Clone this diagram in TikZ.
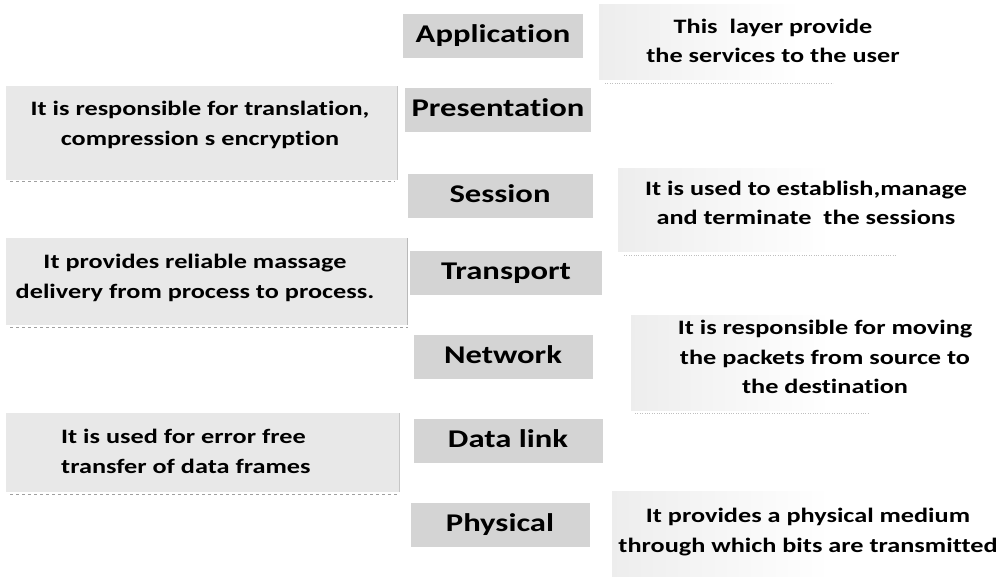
\documentclass[tikz,border=0pt]{standalone}
\usepackage{fontspec}
\setmainfont{Carlito}[FakeStretch=1.28, Ligatures=NoCommon]

\begin{document}
\begin{tikzpicture}[x=1pt,y=-1pt,
  every node/.style={inner sep=0pt},
  layer/.style={fill=gray!34, minimum height=44pt, text height=17pt, text depth=5pt,
    font=\bfseries\fontsize{25.5}{30}\selectfont},
  desc/.style={align=center, font=\bfseries\fontsize{20.5}{30}\selectfont},
  note/.style={align=center, font=\bfseries\fontsize{20.5}{29.5}\selectfont}]
\useasboundingbox (0,0) rectangle (1001,579);
%
% middle column: the seven layers
\node[layer, minimum width=180pt] (app)   at (493,36)  {Application};
\node[layer, minimum width=186pt] (pres)  at (498,110) {Presentation};
\node[layer, minimum width=185pt] (sess)  at (500,196) {Session};
\node[layer, minimum width=192pt] (trans) at (506,273) {Transport};
\node[layer, minimum width=179pt] (net)   at (503,357) {Network};
\node[layer, minimum width=189pt] (dlink) at (508,441) {Data link};
\node[layer, minimum width=179pt] (phys)  at (500,525) {Physical};
%
% left column
\fill[gray!18] (6,86) rectangle (398,180);
\draw[gray!45, thin] (397,86) -- (397,180);
\draw[gray!75, dashed, thin] (10,181) -- (395,181);
\node[desc] (descPres) at (200,125) {It is responsible for translation,\\compression s encryption};
%
\fill[gray!18] (6,238) rectangle (408,325);
\draw[gray!55, thick] (407,238) -- (407,325);
\draw[gray!75, dashed, thin] (10,327) -- (408,327);
\node[desc] (descTrans) at (195,278) {It provides reliable massage\\delivery from process to process.};
%
\fill[gray!18] (6,413) rectangle (400,492);
\draw[gray!45, thin] (399,413) -- (399,492);
\draw[gray!75, dashed, thin] (10,494) -- (398,494);
\node[desc, anchor=west, align=left] (descDlink) at (61,451) {It is used for error free\\transfer of data frames};
%
% right column
\shade[left color=gray!14, right color=white] (599,4) rectangle (800,79);
\draw[gray!50, dotted] (605,83) -- (833,83);
\node[note] (noteApp) at (773,41) {This\ \ layer provide\\the services to the user};
%
\shade[left color=gray!14, right color=white] (618,168) rectangle (830,251);
\draw[gray!50, dotted] (624,255) -- (896,255);
\node[note] (noteSess) at (806,203) {It is used to establish,manage\\and terminate\ \ the sessions};
%
\shade[left color=gray!14, right color=white] (631,315) rectangle (830,410);
\draw[gray!50, dotted] (635,413) -- (870,413);
\node[note] (noteNet) at (825,357) {It is responsible for moving\\the packets from source to\\the destination};
%
\shade[left color=gray!14, right color=white] (612,491) rectangle (830,576);
\node[note] (notePhys) at (808,532) {It provides a physical medium\\through which bits are transmitted};
\end{tikzpicture}
\end{document}
